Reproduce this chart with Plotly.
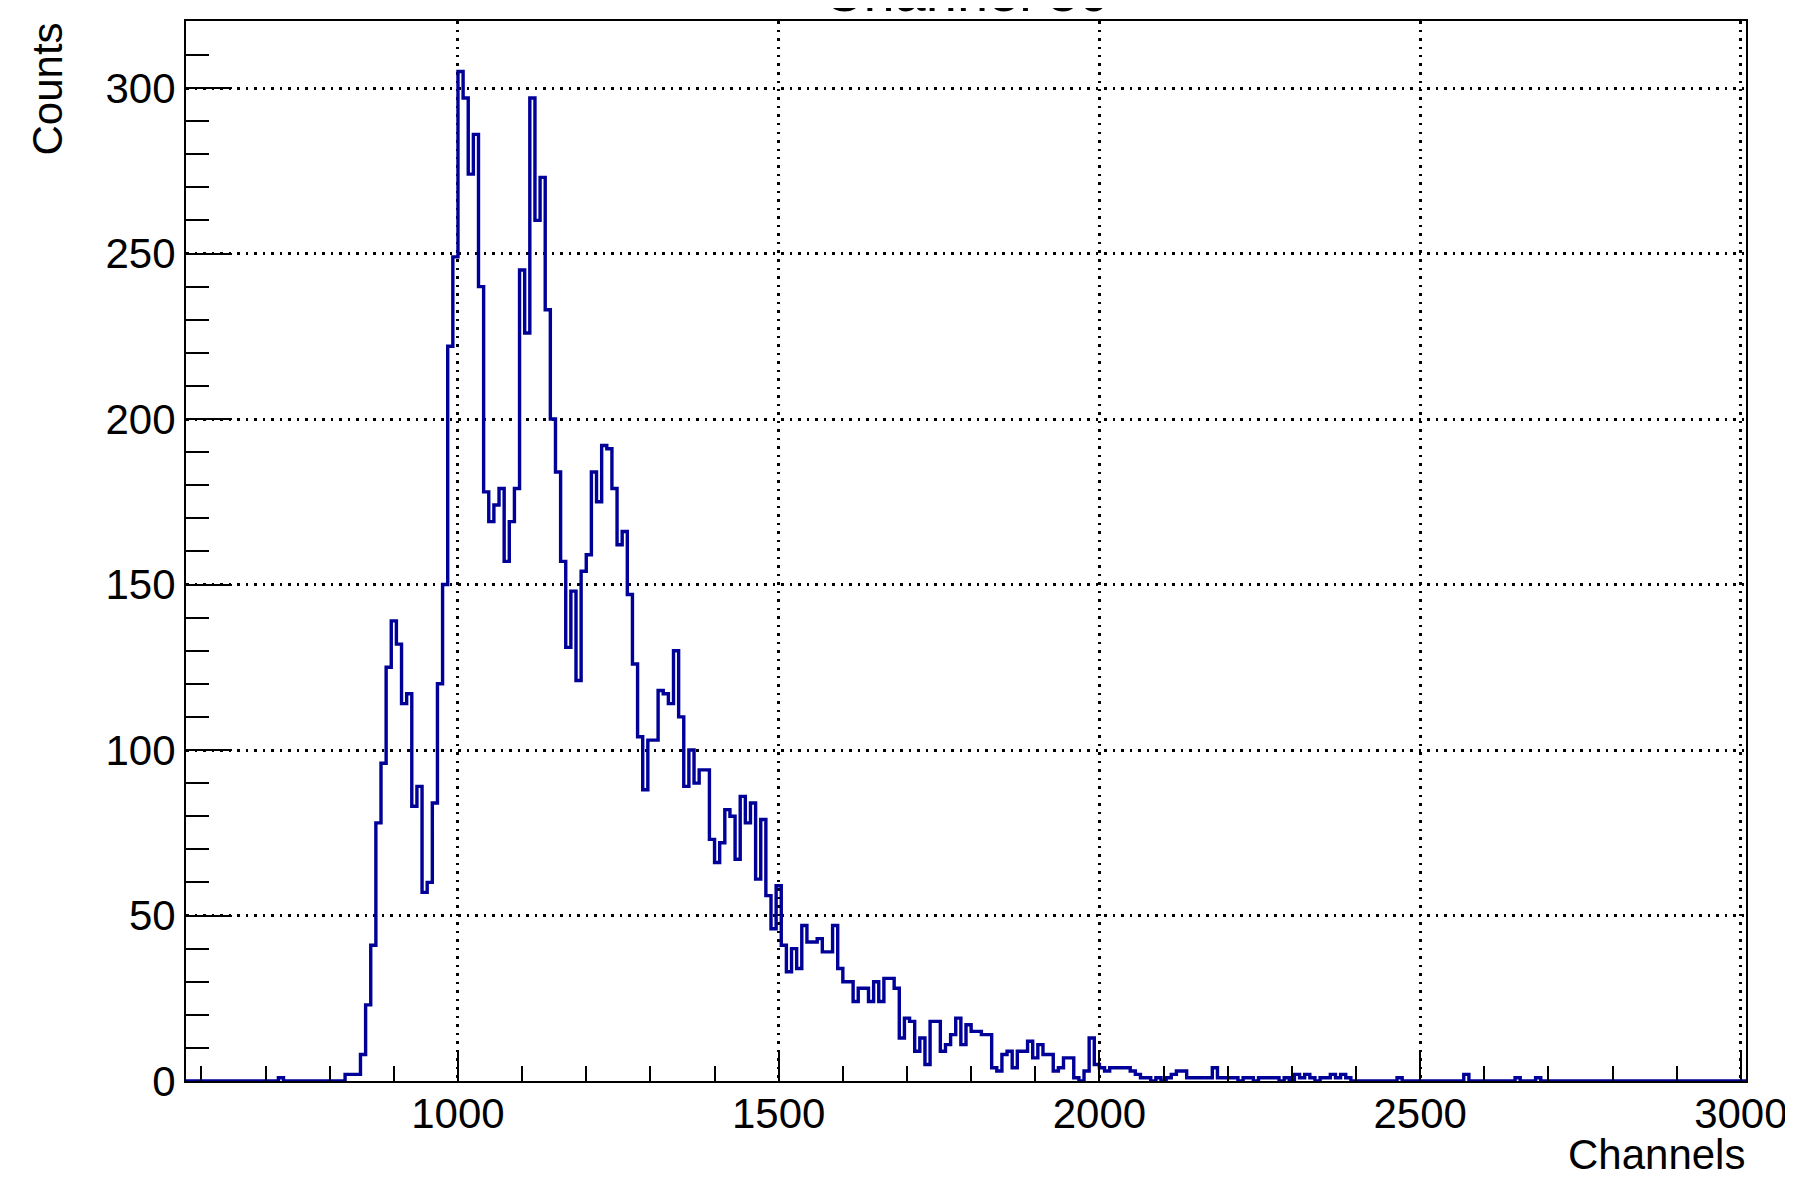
import plotly.graph_objects as go

# ---- data ----
x_start = 576          # first bin low edge (channels)
bin_width = 8          # channels per bin

# counts per bin, 576 .. 992
counts_rise = [
    0, 0, 0, 0, 0, 0, 0, 0, 0, 0,
    0, 0, 0, 0, 0, 0, 0, 0, 1, 0,
    0, 0, 0, 0, 0, 0, 0, 0, 0, 0,
    0, 2, 2, 2, 8, 23, 41, 78, 96, 125,
    139, 132, 114, 117, 83, 89, 57, 60, 84, 120,
    150, 222, 249,
]
# counts per bin, 1000 .. 1488
counts_peaks = [
    305, 297, 274, 286, 240, 178, 169,
    174, 179, 157, 169, 179, 245, 226, 297, 260, 273,
    233, 200, 184, 157, 131, 148, 121, 154, 159, 184,
    175, 192, 191, 179, 162, 166, 147, 126, 104, 88,
    103, 103, 118, 117, 114, 130, 110, 89, 100, 90,
    94, 94, 73, 66, 72, 82, 80, 67, 86, 78,
    84, 61, 79, 56, 46,
]
# counts per bin, 1496 .. 2096
counts_tail = [
    59, 41, 33, 40, 34,
    47, 42, 42, 43, 39, 39, 47, 34, 30, 30,
    24, 28, 28, 24, 30, 24, 31, 31, 28, 13,
    19, 18, 9, 13, 5, 18, 18, 9, 11, 14,
    19, 11, 17, 15, 15, 14, 14, 4, 3, 8,
    9, 4, 9, 9, 12, 7, 11, 8, 8, 3,
    4, 7, 7, 1, 0, 3, 13, 5, 4, 3,
    4, 4, 4, 4, 3, 2, 1, 1, 0, 1,
    0,
]
# counts per bin, 2104 .. 3000
counts_far_tail = [
    1, 2, 3, 3, 1, 1, 1, 1, 1,
    4, 1, 1, 1, 1, 0, 1, 1, 0, 1,
    1, 1, 1, 0, 1, 0, 2, 1, 2, 1,
    0, 1, 1, 2, 1, 2, 1, 0, 0, 0,
    0, 0, 0, 0, 0, 0, 1, 0, 0, 0,
    0, 0, 0, 0, 0, 0, 0, 0, 0, 2,
    0, 0, 0, 0, 0, 0, 0, 0, 0, 1,
    0, 0, 0, 1, 0, 0, 0, 0, 0, 0,
    0, 0, 0, 0, 0, 0, 0, 0, 0, 0,
    0, 0, 0, 0, 0, 0, 0, 0, 0, 0,
    0, 0, 0, 0, 0, 0, 0, 0, 0, 0,
    0, 0, 0, 0,
]

title_text = "Channel 30"
x_title = "Channels"
y_title = "Counts"
x_major_ticks = [1000, 1500, 2000, 2500, 3000]
y_major_ticks = [0, 50, 100, 150, 200, 250, 300]

counts = counts_rise + counts_peaks + counts_tail + counts_far_tail
n_bins = len(counts)
edges = [x_start + bin_width * i for i in range(n_bins + 1)]
x_end = edges[-1]
y_max = max(counts) * 1.05

# ---- figure ----
FONT = "Liberation Sans, Arial, Helvetica, sans-serif"
FS = 42
fig = go.Figure()
fig.add_trace(go.Scatter(
    x=edges, y=counts + [counts[-1]],
    mode="lines", line=dict(shape="hv", color="#000099", width=3.4),
    hoverinfo="skip",
))

common_axis = dict(
    showline=True, linewidth=2, linecolor="black", mirror=True,
    ticks="inside", tickwidth=2, tickcolor="black",
    showgrid=True, gridcolor="black", gridwidth=2.5, griddash="2.5px,6px",
    zeroline=False, ticklabeloverflow="allow", automargin=False,
    tickfont=dict(family=FONT, size=FS, color="black"),
)

fig.update_xaxes(
    range=[x_start, x_end], tickvals=x_major_ticks, ticklen=31,
    ticklabelstandoff=-5,
    minor=dict(dtick=100, tick0=0, ticks="inside", ticklen=15, tickwidth=2,
               tickcolor="black", showgrid=False),
    **common_axis,
)
fig.update_yaxes(
    range=[0, y_max], tickvals=y_major_ticks, ticklen=46,
    minor=dict(dtick=10, tick0=0, ticks="inside", ticklen=23, tickwidth=2,
               tickcolor="black", showgrid=False),
    **common_axis,
)

fig.update_layout(
    width=1781, height=1171,
    margin=dict(l=178, r=43, t=13, b=98, autoexpand=False),
    paper_bgcolor="white", plot_bgcolor="white",
    showlegend=False,
    font=dict(family=FONT, size=FS, color="black"),
    annotations=[
        dict(text=title_text, xref="paper", yref="paper", x=0.5, y=1,
             xanchor="center", yanchor="bottom", yshift=-4, showarrow=False,
             font=dict(family=FONT, size=56, color="black")),
        dict(text=x_title, xref="paper", yref="paper", x=1, y=0,
             xanchor="right", yanchor="top", yshift=-49, borderpad=0,
             showarrow=False,
             font=dict(family=FONT, size=FS, color="black")),
        dict(text=y_title, xref="paper", yref="paper", x=0, y=1,
             xanchor="center", yanchor="top", xshift=-139, textangle=-90,
             showarrow=False,
             font=dict(family=FONT, size=FS, color="black")),
    ],
)

fig.write_html("out.html")
